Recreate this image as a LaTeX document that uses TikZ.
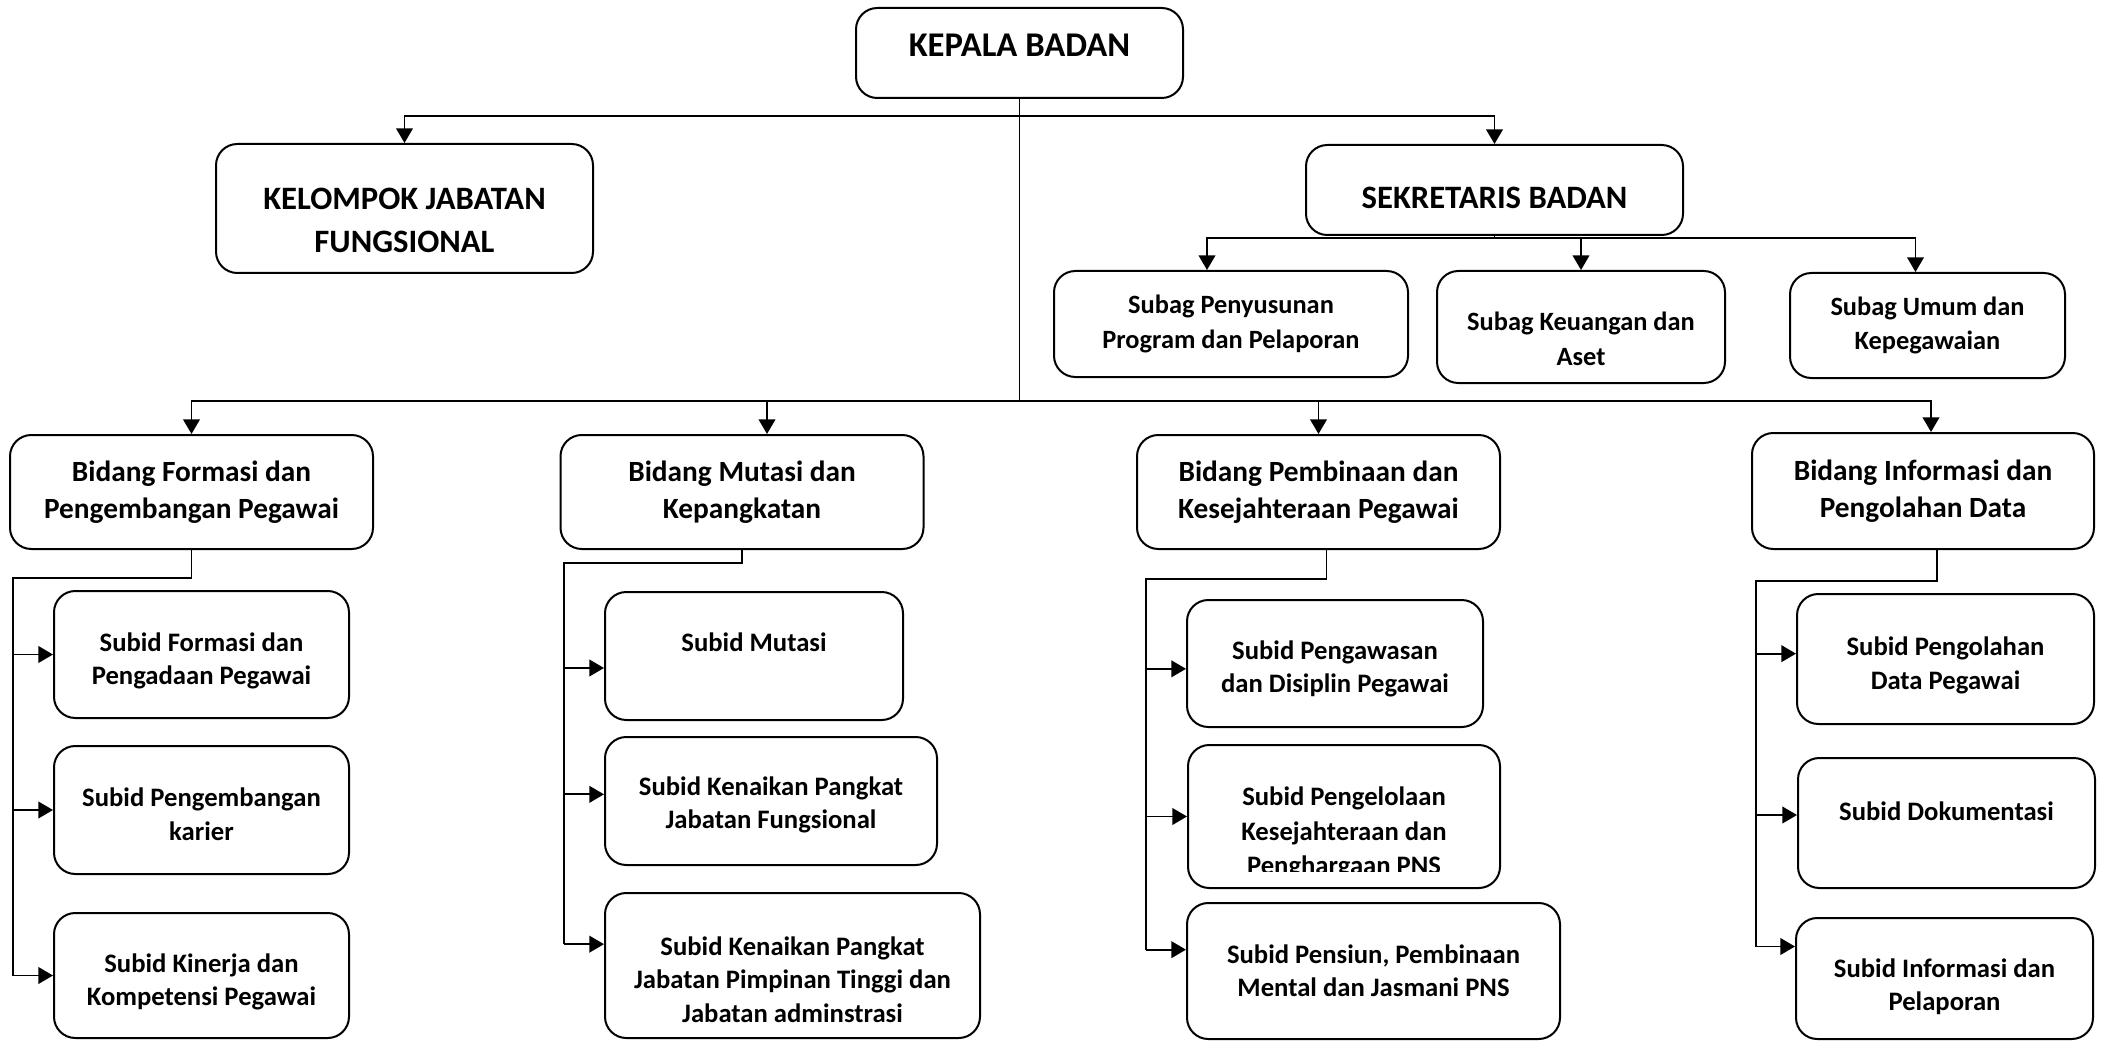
\documentclass[tikz,border=0pt]{standalone}
\usepackage{fontspec}
\setmainfont{Carlito}
\usetikzlibrary{arrows.meta}
\tikzset{
  kotak/.style={draw, rounded corners=16pt, line width=1.5pt, align=center, inner sep=0pt},
  judul/.style={kotak, font=\fontsize{24.5}{32}\selectfont\bfseries},
  bidang/.style={kotak, font=\fontsize{22}{28}\selectfont\bfseries},
  subid/.style={kotak, font=\fontsize{20}{25}\selectfont\bfseries},
  subag/.style={kotak, font=\fontsize{19.8}{26}\selectfont\bfseries},
  garis/.style={line width=1.4pt},
  panah/.style={garis, -{Triangle[length=11pt,width=12.5pt]}}
}
\begin{document}
\begin{tikzpicture}[x=0.75pt,y=0.75pt,yscale=-1,xscale=1]
\useasboundingbox (0,0) rectangle (2103,1041);

% Rounded Rect
\node[judul, font=\fontsize{26}{32}\selectfont\bfseries, text depth=12pt, minimum width=245.25pt, minimum height=67.5pt] (kepala) at (1019.5,53) {KEPALA BADAN};
\node[judul, minimum width=282.75pt, minimum height=96.75pt] (kjf) at (404.5,208.5) {~\\[1.5pt]KELOMPOK JABATAN\\FUNGSIONAL};
\node[judul, text height=27.5pt, minimum width=282.75pt, minimum height=67.5pt] (sekr) at (1494.5,190) {SEKRETARIS BADAN};

% Rounded Rect
\node[subag, minimum width=265.5pt, minimum height=79.5pt] (sp1) at (1231,324) {Subag Penyusunan\\Program dan Pelaporan};
\node[subag, minimum width=216pt, minimum height=84pt] (sp2) at (1581,327) {~\\[6pt]Subag Keuangan dan\\Aset};
\node[subag, minimum width=206.25pt, minimum height=78.75pt] (sp3) at (1927.5,325.5) {Subag Umum dan\\Kepegawaian};

% Rounded Rect
\node[bidang, minimum width=272.25pt, minimum height=85.5pt] (bfp) at (191.5,492) {Bidang Formasi dan\\Pengembangan Pegawai};
\node[bidang, minimum width=272.25pt, minimum height=85.5pt] (bmk) at (742,492) {Bidang Mutasi dan\\Kepangkatan};
\node[bidang, minimum width=272.25pt, minimum height=85.5pt] (bpk) at (1318.5,492) {Bidang Pembinaan dan\\Kesejahteraan Pegawai};
\node[bidang, minimum width=256.5pt, minimum height=87pt] (bip) at (1923,491) {Bidang Informasi dan\\Pengolahan Data};

% Rounded Rect
\node[subid, minimum width=221.25pt, minimum height=95.25pt] (s11) at (201.5,654.5) {~\\[-1.4pt]Subid Formasi dan\\Pengadaan Pegawai};
\node[subid, minimum width=221.25pt, minimum height=96pt] (s12) at (201.5,810) {~\\[-4.4pt]Subid Pengembangan\\karier};
\node[subid, minimum width=221.25pt, minimum height=93.75pt] (s13) at (201.5,975.5) {~\\[-1.4pt]Subid Kinerja dan\\Kompetensi Pegawai};

\node[subid, minimum width=223.5pt, minimum height=96pt] (s21) at (754,656) {Subid Mutasi\\[-4pt]~};
\node[subid, minimum width=249pt, minimum height=96pt] (s22) at (771,801) {~\\[-5.4pt]Subid Kenaikan Pangkat\\Jabatan Fungsional};
\node[subid, minimum width=281.25pt, minimum height=108.75pt] (s23) at (792.5,965.5) {~\\[10pt]Subid Kenaikan Pangkat\\Jabatan Pimpinan Tinggi dan\\Jabatan adminstrasi};

\node[subid, minimum width=222pt, minimum height=95.25pt] (s31) at (1335,663.5) {~\\[-2.4pt]Subid Pengawasan\\dan Disiplin Pegawai};
\node[subid, minimum width=234pt, minimum height=107.25pt,
  path picture={
    \clip ([yshift=12.5pt]path picture bounding box.south west) rectangle (path picture bounding box.north east);
    \node[align=center, inner sep=0pt, font=\fontsize{20}{26}\selectfont\bfseries] at ([yshift=-12.5pt]path picture bounding box.center) {Subid Pengelolaan\\Kesejahteraan dan\\Penghargaan PNS};
  }] (s32) at (1344,816.5) {};
\node[subid, minimum width=279.75pt, minimum height=102pt] (s33) at (1373.5,971) {Subid Pensiun, Pembinaan\\Mental dan Jasmani PNS};

\node[subid, minimum width=222.75pt, minimum height=97.5pt] (s41) at (1945.5,659) {~\\[-1.4pt]Subid Pengolahan\\Data Pegawai};
\node[subid, minimum width=222.75pt, minimum height=97.5pt] (s42) at (1946.5,823) {Subid Dokumentasi\\[-7pt]~};
\node[subid, minimum width=222.75pt, minimum height=90.75pt] (s43) at (1944.5,978.5) {~\\[1.6pt]Subid Informasi dan\\Pelaporan};

%Straight Lines
\coordinate (top) at (1019.5,116);
\coordinate (mid) at (1019.5,401);
\coordinate (sek) at (1494.5,238);
\draw[garis] (kepala.south) -- (mid);
\draw[panah] (top) -| (kjf.north);
\draw[panah] (top) -| (sekr.north);
\draw[garis] (sekr.south) -- (sek);
\draw[panah] (sek) -| ([xshift=-18pt]sp1.north);
\draw[panah] (sek) -| (sp2.north);
\draw[panah] (sek) -| ([xshift=-9pt]sp3.north);
\draw[panah] (mid) -| (bfp.north);
\draw[panah] (mid) -| ([xshift=18.75pt]bmk.north);
\draw[panah] (mid) -| (bpk.north);
\draw[panah] (mid) -| ([xshift=6pt]bip.north);

%Straight Lines
\coordinate (fa) at (13,578);
\draw[garis] (bfp.south) |- (fa) -- (fa |- s13.west);
\draw[panah] (fa |- s11.west) -- (s11.west);
\draw[panah] (fa |- s12.west) -- (s12.west);
\draw[panah] (fa |- s13.west) -- (s13.west);

%Straight Lines
\coordinate (ma) at (564,563);
\coordinate (m1) at ([yshift=9pt]s21.west);
\coordinate (m2) at ([yshift=-5pt]s22.west);
\coordinate (m3) at ([yshift=-16pt]s23.west);
\draw[garis] (bmk.south) |- (ma) -- (ma |- m3);
\draw[panah] (ma |- m1) -- (m1);
\draw[panah] (ma |- m2) -- (m2);
\draw[panah] (ma |- m3) -- (m3);

%Straight Lines
\coordinate (pa) at (1146,579);
\coordinate (p1) at ([yshift=4pt]s31.west);
\coordinate (p2) at (s32.west);
\coordinate (p3) at ([yshift=-16pt]s33.west);
\draw[garis] ([xshift=6pt]bpk.south) |- (pa) -- (pa |- p3);
\draw[panah] (pa |- p1) -- (p1);
\draw[panah] (pa |- p2) -- (p2);
\draw[panah] (pa |- p3) -- (p3);

%Straight Lines
\coordinate (ia) at (1756,581);
\coordinate (i1) at ([yshift=-4pt]s41.west);
\coordinate (i2) at ([yshift=-6pt]s42.west);
\coordinate (i3) at ([yshift=-24pt]s43.west);
\draw[garis] ([xshift=10.5pt]bip.south) |- (ia) -- (ia |- i3);
\draw[panah] (ia |- i1) -- (i1);
\draw[panah] (ia |- i2) -- (i2);
\draw[panah] (ia |- i3) -- (i3);

\end{tikzpicture}
\end{document}
